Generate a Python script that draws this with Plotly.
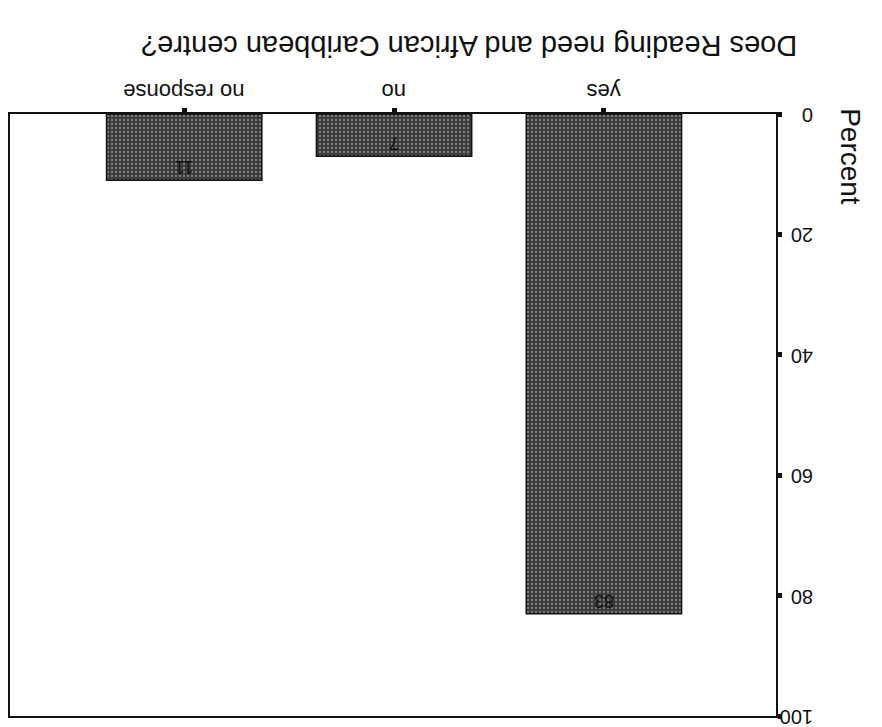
import plotly.graph_objects as go

# Survey responses (percent)
categories = ["yes", "no", "no response"]
percent = [83, 7, 11]
y_ticks = [0, 20, 40, 60, 80, 100]

title_text = "Does Reading need and African Caribbean centre?"
y_title = "Percent"

FONT = "Liberation Sans, Arial"

fig = go.Figure()
fig.add_trace(go.Bar(
    x=categories,
    y=percent,
    width=0.74,
    marker=dict(
        color="#3a3a3a",
        line=dict(color="#111111", width=1.5),
        pattern=dict(shape=".", fgcolor="#c8c8c8", bgcolor="#3a3a3a",
                     size=4, solidity=0.25, fillmode="overlay"),
    ),
    text=[str(v) for v in percent],
    textposition="inside",
    insidetextanchor="end",
    textangle=180,
    textfont=dict(family=FONT, size=18, color="#111111"),
    hoverinfo="skip",
))

# upside-down category labels, centred on each category
annotations = [
    dict(text=c, xref="x", yref="paper", x=c, y=1.0, yshift=22,
         showarrow=False, textangle=180, xanchor="center", yanchor="middle",
         font=dict(family=FONT, size=22, color="#111111"))
    for c in categories
]
annotations += [
    dict(text=title_text, xref="paper", yref="paper", x=0.6, y=1.0,
         yshift=86, showarrow=False, textangle=180,
         font=dict(family=FONT, size=29, color="#111111")),
    dict(text=y_title, xref="paper", yref="paper", x=1.0, y=0.93,
         xshift=92, yshift=50, showarrow=False, textangle=90,
         font=dict(family=FONT, size=28, color="#111111")),
]

fig.update_layout(
    width=882, height=727,
    margin=dict(l=10, r=106, t=114, b=11, autoexpand=False),
    paper_bgcolor="white", plot_bgcolor="white",
    showlegend=False,
    xaxis=dict(
        side="top",
        range=[2.83, -0.82],
        showticklabels=False,
        automargin=False,
        ticks="outside", ticklen=4, tickwidth=5, tickcolor="#111111",
        showline=True, linecolor="#111111", linewidth=2, mirror=True,
        showgrid=False, zeroline=False,
    ),
    yaxis=dict(
        side="right",
        range=[100, 0],
        automargin=False,
        tickmode="array", tickvals=y_ticks,
        tickangle=180,
        ticklabelstandoff=27,
        ticklabelshift=-7,
        ticklabeloverflow="allow",
        ticks="outside", ticklen=4, tickwidth=5, tickcolor="#111111",
        showline=True, linecolor="#111111", linewidth=2, mirror=True,
        showgrid=False, zeroline=False,
        tickfont=dict(family=FONT, size=20, color="#111111"),
    ),
    annotations=annotations,
)

fig.write_html("out.html")
